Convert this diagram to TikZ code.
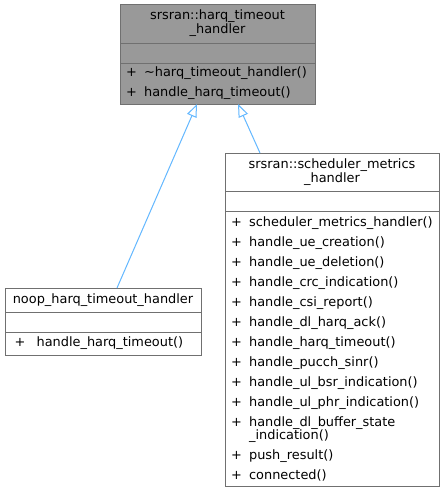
\documentclass[tikz,border=0pt]{standalone}
\usepackage{fontspec}
\setmainfont{DejaVu Sans}
\usetikzlibrary{arrows.meta, positioning}

\definecolor{umlborder}{HTML}{707070}
\definecolor{umlfill}{HTML}{999999}
\definecolor{inheritblue}{HTML}{63B8FF}
\newcommand{\pub}{+\hspace{3pt}~}

\begin{document}
\begin{tikzpicture}[
    x=1pt, y=-1pt,
    font=\fontsize{12.9}{14}\selectfont,
    part/.style={rectangle, draw=umlborder, line width=1pt, inner xsep=6pt, inner ysep=0pt, outer sep=0pt},
    classname/.style={part, align=center},
    attrs/.style={part, minimum height=20pt},
    ops/.style={part, align=left, font=\fontsize{12.9}{20}\selectfont},
    current/.style={fill=umlfill},
    inherit/.style={-{Triangle[open, length=13pt, width=10pt]}, line width=1pt, draw=inheritblue}
]

\fill[white] (0,0) rectangle (445,493);
\useasboundingbox (0,0) rectangle (445,493);

% base class
\node[classname, current, text width=183pt, minimum height=39pt, anchor=north west] (harqT) at (120,4) {srsran::harq\_timeout\\\_handler};
\node[attrs, current, text width=183pt, below=0pt of harqT] (harqA) {};
\node[ops, current, text width=183pt, minimum height=41pt, below=0pt of harqA] (harqO) {\pub\textasciitilde harq\_timeout\_handler()\\\pub handle\_harq\_timeout()};

% noop handler
\node[classname, text width=184pt, minimum height=24pt, anchor=north west] (noopT) at (5,288) {noop\_harq\_timeout\_handler};
\node[attrs, text width=184pt, below=0pt of noopT] (noopA) {};
\node[ops, text width=184pt, minimum height=23pt, below=0pt of noopA] (noopO) {\hspace*{3.5pt}+\hspace{7pt}~handle\_harq\_timeout()};

% metrics handler
\node[classname, text width=202pt, minimum height=38pt, anchor=north west] (schedT) at (225,153) {srsran::scheduler\_metrics\\\_handler};
\node[attrs, text width=202pt, below=0pt of schedT] (schedA) {};
\node[ops, text width=202pt, minimum height=275pt, below=0pt of schedA] (schedO) {\pub scheduler\_metrics\_handler()\\
\pub handle\_ue\_creation()\\
\pub handle\_ue\_deletion()\\
\pub handle\_crc\_indication()\\
\pub handle\_csi\_report()\\
\pub handle\_dl\_harq\_ack()\\
\pub handle\_harq\_timeout()\\
\pub handle\_pucch\_sinr()\\
\pub handle\_ul\_bsr\_indication()\\
\pub handle\_ul\_phr\_indication()\\
\pub handle\_dl\_buffer\_state\\[-7pt]
\phantom{\pub}\_indication()\\
\pub push\_result()\\
\pub connected()};

\draw[inherit] ([xshift=112pt]noopT.north west) -- ([xshift=77pt]harqO.south west);
\draw[inherit] ([xshift=35pt]schedT.north west) -- ([xshift=118pt]harqO.south west);

\end{tikzpicture}
\end{document}
